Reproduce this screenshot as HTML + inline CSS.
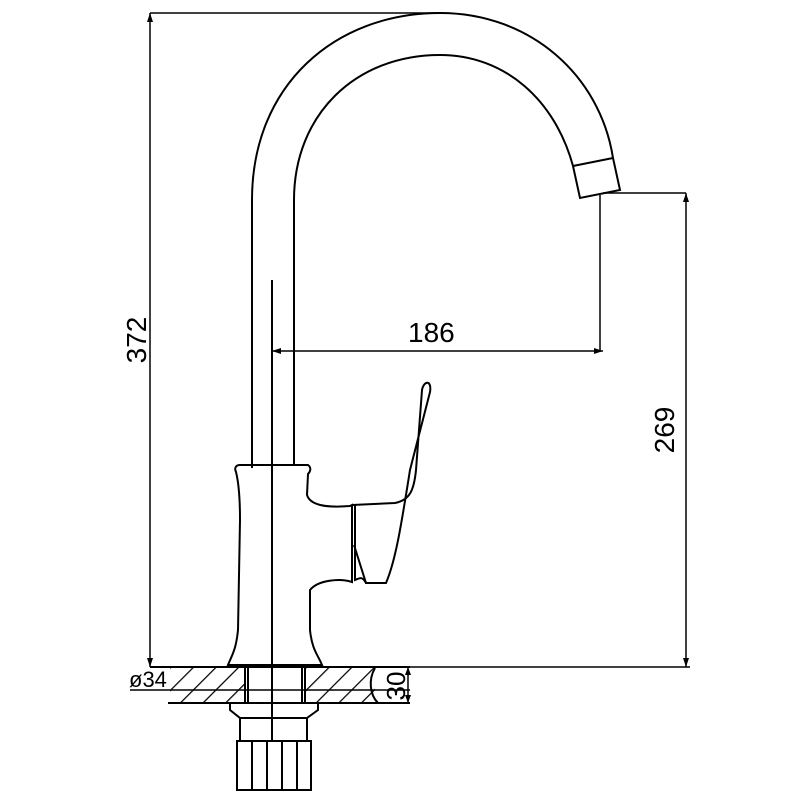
<!DOCTYPE html>
<html><head><style>body{margin:0;background:#fff}svg{display:block}</style></head><body>
<svg width="800" height="800" viewBox="0 0 800 800" xmlns="http://www.w3.org/2000/svg">
<defs>
<pattern id="h" width="16" height="16" patternUnits="userSpaceOnUse" patternTransform="rotate(45)">
<line x1="0" y1="0" x2="0" y2="16" stroke="#000" stroke-width="2.5"/>
</pattern>
</defs>
<g fill="none" stroke="#000" stroke-width="2">
<path d="M252,468 L252,200 C252,85 335,13 440,13 C530,13 600,75 613,158 L620,190 L580,198 L573,166 C555,100 505,55 440,55 C355,55 294,115 294,200 L294,466"/>
<line x1="573" y1="166" x2="613" y2="158"/>
<path d="M240,465 L308,465 C312,468 310,472 308,474 L307,495 C310,505 325,508 350,506 L352,505 L352,582 C340,578 318,580 310,590 L310,630 C312,650 318,655 322,665 L228,665 C232,655 236,650 238,630 L240,520 C240,495 238,480 236,472 C234,468 236,465 240,465Z"/>
<path d="M352,505 L395,503 C410,500 414,490 416,470 L422,390 C424,380 432,380 430,392 L410,470 C402,520 396,560 386,583 L366,583 L354,545"/>
<path d="M355,505 L355,580 C360,578 362,576 366,583"/>
</g>
<rect x="170" y="668" width="75" height="35" fill="url(#h)"/>
<rect x="305" y="668" width="70" height="35" fill="url(#h)"/>
<g fill="none" stroke="#000" stroke-width="2">
<line x1="150" y1="667" x2="410" y2="667"/>
<line x1="168" y1="703" x2="410" y2="703"/>
<line x1="130" y1="690" x2="410" y2="690" stroke-width="1.5"/>
<path d="M375,668 C368,680 370,695 378,703"/>
<line x1="245" y1="668" x2="245" y2="703"/>
<line x1="305" y1="668" x2="305" y2="703"/>
<line x1="248" y1="668" x2="248" y2="703"/>
<line x1="302" y1="668" x2="302" y2="703"/>
<path d="M230,704 L230,710 L240,718 L240,740 M318,704 L318,710 L307,718 L307,740 M240,718 L307,718"/>
<rect x="237" y="741" width="74" height="49"/>
<line x1="252" y1="741" x2="252" y2="790"/><line x1="267" y1="741" x2="267" y2="790"/>
<line x1="282" y1="741" x2="282" y2="790"/><line x1="297" y1="741" x2="297" y2="790"/>
</g>
<g stroke="#000" stroke-width="1.5" fill="none">
<line x1="150" y1="13" x2="440" y2="13"/>
<line x1="150" y1="13" x2="150" y2="667"/>
<line x1="272" y1="280" x2="272" y2="740" stroke-width="2"/>
<line x1="272" y1="351" x2="603" y2="351"/>
<line x1="600" y1="195" x2="600" y2="351"/>
<line x1="603" y1="193" x2="686" y2="193"/>
<line x1="686" y1="193" x2="686" y2="667"/>
<line x1="408" y1="667" x2="408" y2="703"/>
<line x1="410" y1="667" x2="690" y2="667"/>
</g>
<g fill="#000">
<path d="M150,13 l-3,9 h6z"/><path d="M150,667 l-3,-9 h6z"/>
<path d="M272,351 l9,-3 v6z"/><path d="M603,351 l-9,-3 v6z"/>
<path d="M686,193 l-3,9 h6z"/><path d="M686,667 l-3,-9 h6z"/>
<path d="M408,667 l-3,8 h6z"/><path d="M408,703 l-3,-8 h6z"/>
</g>
<g font-family="Liberation Sans, sans-serif" font-size="28" fill="#000">
<text x="408" y="342">186</text>
<text transform="translate(146,340) rotate(-90)" text-anchor="middle">372</text>
<text transform="translate(674,430) rotate(-90)" text-anchor="middle">269</text>
<text transform="translate(405,686) rotate(-90)" text-anchor="middle" font-size="26">30</text>
<text x="129" y="687" font-size="22">ø34</text>
</g>
</svg>
</body></html>
